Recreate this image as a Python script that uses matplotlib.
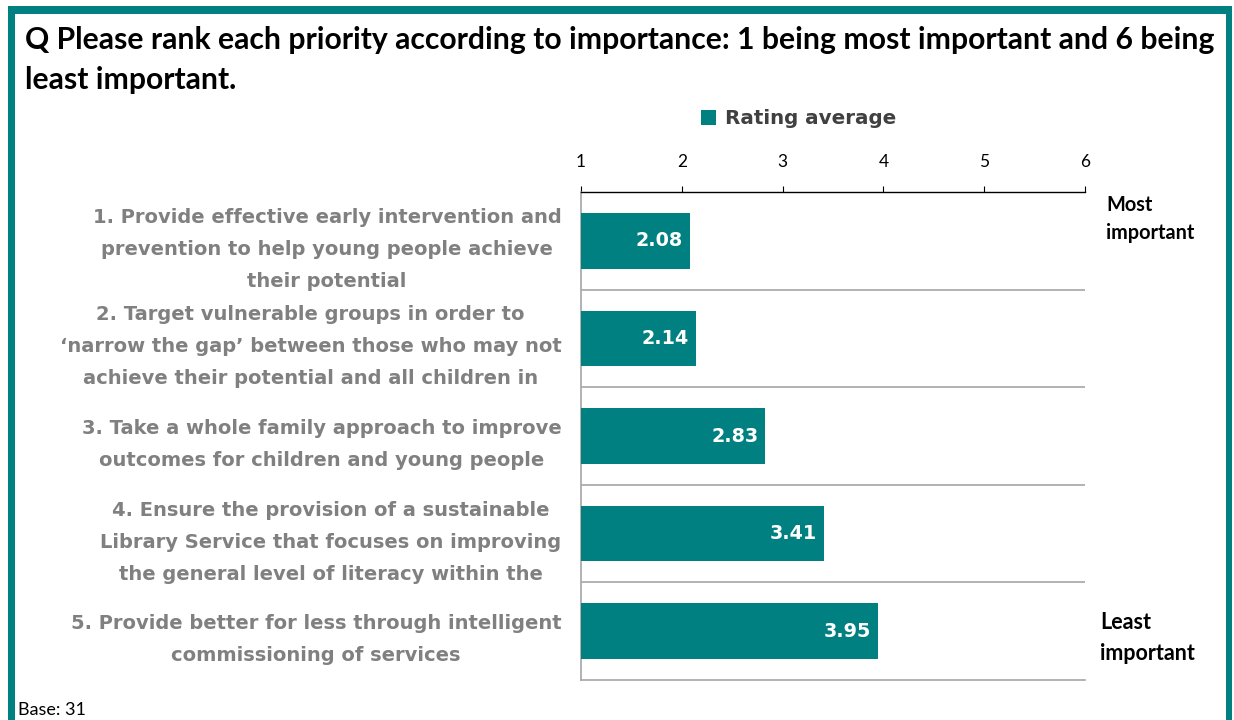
import matplotlib
matplotlib.use("Agg")
import matplotlib.pyplot as plt
from matplotlib.patches import Rectangle

# survey priorities, ranked 1 (most important) to 6 (least important)
priorities = [
    "1. Provide effective early intervention and\nprevention to help young people achieve\ntheir potential",
    "2. Target vulnerable groups in order to\n\u2018narrow the gap\u2019 between those who may not\nachieve their potential and all children in",
    "3. Take a whole family approach to improve\noutcomes for children and young people",
    "4. Ensure the provision of a sustainable\nLibrary Service that focuses on improving\nthe general level of literacy within the",
    "5. Provide better for less through intelligent\ncommissioning of services",
]
rating_avg = [2.08, 2.14, 2.83, 3.41, 3.95]
scale_ticks = [1, 2, 3, 4, 5, 6]
series_name = "Rating average"
base_n = 31

TEAL = "#008080"
GREY_TXT = "#808080"
SEP = "#a6a6a6"
SANS = "DejaVu Sans"

W, H = 1234, 720
fig = plt.figure(figsize=(W / 100, H / 100), dpi=100)
fig.patch.set_facecolor("white")

# teal frame (left, top and right sides)
for x0, y0, w, h in [(8, 6, 7, 720), (8, 6, 1224, 8), (1226, 6, 6, 720)]:
    fig.patches.append(Rectangle((x0 / W, 1 - (y0 + h) / H), w / W, h / H,
                                 transform=fig.transFigure, color=TEAL, lw=0))

fig.text(25 / W, 1 - 40 / H,
         "Q Please rank each priority according to importance: 1 being most important and 6 being",
         fontsize=21.7, fontweight="bold", family="Lato", va="center", ha="left")
fig.text(25 / W, 1 - 80 / H, "least important.",
         fontsize=21.7, fontweight="bold", family="Lato", va="center", ha="left")

left, right, top, bottom = 581, 1085, 192, 680
ax = fig.add_axes([left / W, 1 - bottom / H, (right - left) / W, (bottom - top) / H])

ypos = list(range(len(priorities)))
bars = ax.barh(ypos, [v - scale_ticks[0] for v in rating_avg], left=scale_ticks[0],
               height=0.57, color=TEAL, label=series_name, zorder=3)
for b, v in zip(bars, rating_avg):
    ax.text(b.get_x() + b.get_width() - 0.07, b.get_y() + b.get_height() / 2,
            f"{v:.2f}", color="white", fontsize=13.8, fontweight="bold",
            family=SANS, ha="right", va="center", zorder=4)

ax.set_xlim(scale_ticks[0], scale_ticks[-1])
ax.set_ylim(len(priorities) - 0.5, -0.5)

# row separators
for i in range(1, len(priorities)):
    ax.axhline(i - 0.5, color=SEP, lw=1.2, zorder=1)

ax.xaxis.tick_top()
ax.set_xticks(scale_ticks)
ax.set_xticklabels([str(t) for t in scale_ticks], family="Lato", fontsize=12.5)
ax.tick_params(axis="x", direction="out", length=4, width=0.8, color="black", pad=12)

ax.set_yticks(ypos)
ax.set_yticklabels(priorities, family=SANS, fontsize=14.0,
                   fontweight="bold", color=GREY_TXT)
for lbl in ax.get_yticklabels():
    lbl.set_multialignment("center")
    lbl.set_linespacing(1.87)
ax.tick_params(axis="y", length=0, pad=14)

ax.spines["top"].set_color("black")
ax.spines["top"].set_linewidth(1.0)
ax.spines["left"].set_color(SEP)
ax.spines["left"].set_linewidth(1.2)
ax.spines["bottom"].set_color(SEP)
ax.spines["bottom"].set_linewidth(1.2)
ax.spines["right"].set_visible(False)

leg = fig.legend(handles=[bars], labels=[series_name], loc="center",
                 bbox_to_anchor=(799 / W, 1 - 119 / H), frameon=False,
                 prop={"family": SANS, "weight": "bold", "size": 14.3},
                 handlelength=0.75, handleheight=0.75, handletextpad=0.45)
for t in leg.get_texts():
    t.set_color("#404040")

fig.text(1106 / W, 1 - 219 / H, "Most\nimportant", fontsize=14.3, fontweight="bold",
         family="Lato", ha="left", va="center", linespacing=1.5)
fig.text(1100 / W, 1 - 638 / H, "Least\nimportant", fontsize=15.5, fontweight="bold",
         family="Lato", ha="left", va="center", linespacing=1.6)

fig.text(18 / W, 1 - 710 / H, f"Base: {base_n}", fontsize=13, family="Lato",
         ha="left", va="center")

fig.savefig("out.png", dpi=100, facecolor="white")
